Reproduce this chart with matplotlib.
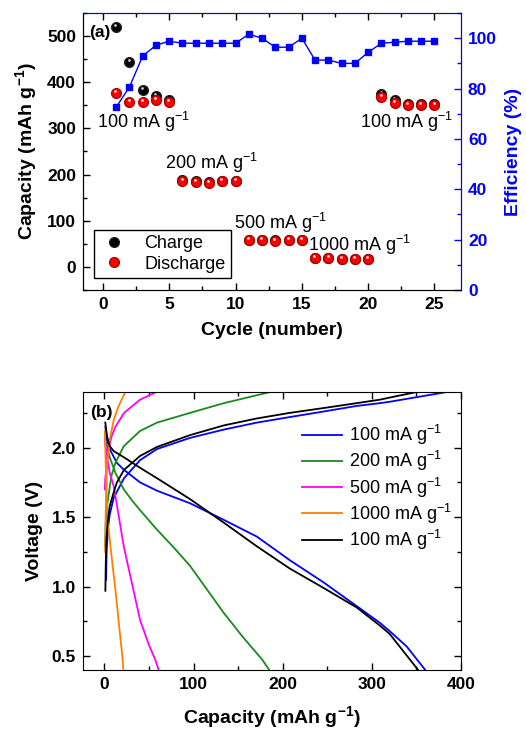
import matplotlib
matplotlib.use('Agg')
import matplotlib.pyplot as plt
from matplotlib.ticker import MultipleLocator
from matplotlib.transforms import ScaledTranslation

plt.rcParams['font.family'] = ['Liberation Sans', 'DejaVu Sans']
plt.rcParams['mathtext.fontset'] = 'custom'
plt.rcParams['mathtext.rm'] = 'Liberation Sans'
plt.rcParams['mathtext.it'] = 'Liberation Sans:italic'
plt.rcParams['mathtext.bf'] = 'Liberation Sans:bold'
plt.rcParams['xtick.direction'] = 'in'
plt.rcParams['ytick.direction'] = 'in'

# ---- panel (a): rate capability ----
cycles = list(range(1, 26))
charge = [520, 444, 383, 370, 362, 188, 186, 184, 187, 187,
          59, 59, 58, 59, 59, 20, 20, 18, 18, 18,
          374, 362, 353, 353, 353]
discharge = [377, 358, 357, 361, 357, 186, 184, 182, 186, 186,
             58, 58, 57, 58, 58, 19, 19, 17, 17, 17,
             368, 355, 351, 351, 351]
efficiency = [72.6, 80.6, 92.9, 97.2, 98.8, 98.0, 98.0, 98.0, 98.0, 98.0,
              101.6, 100.0, 96.4, 96.4, 100.0, 91.3, 91.3, 90.0, 90.0, 94.4,
              98.0, 98.4, 98.8, 98.8, 98.8]
rate_labels = ['100 mA g$^{-1}$', '200 mA g$^{-1}$', '500 mA g$^{-1}$',
               '1000 mA g$^{-1}$', '100 mA g$^{-1}$']
rate_label_pos = [(-0.45, 314), (4.7, 225), (9.85, 95), (15.5, 48), (19.4, 314)]

# ---- panel (b): charge/discharge profiles ----
q_dis_100a = [1.1, 3, 6.7, 14, 22, 40, 59, 96, 134, 171, 208, 246, 283, 309, 320, 339, 360]
v_dis_100a = [2.15, 2.05, 1.98, 1.89, 1.84, 1.75, 1.69, 1.60, 1.48, 1.36, 1.19, 1.03, 0.86, 0.74, 0.68, 0.57, 0.40]
q_chg_100a = [1.9, 2.5, 4, 6, 10.5, 22, 40, 59, 96, 134, 171, 208, 246, 283, 309, 320, 384]
v_chg_100a = [1.05, 1.25, 1.42, 1.52, 1.64, 1.78, 1.91, 1.99, 2.07, 2.13, 2.18, 2.22, 2.26, 2.30, 2.32, 2.33, 2.40]

q_dis_200 = [0.5, 2.2, 6, 12.3, 21.7, 31, 40, 59, 78, 96, 115, 134, 155, 177, 185]
v_dis_200 = [2.07, 2.03, 1.93, 1.82, 1.70, 1.62, 1.55, 1.41, 1.28, 1.15, 0.98, 0.81, 0.64, 0.475, 0.40]
q_chg_200 = [0.9, 1.5, 3, 4.9, 8, 12.3, 21.7, 40, 59, 96, 134, 186]
v_chg_200 = [1.29, 1.45, 1.58, 1.67, 1.80, 1.89, 2.01, 2.12, 2.18, 2.25, 2.32, 2.40]

q_dis_500 = [0.5, 1, 3, 6, 10.5, 15, 21.7, 30, 40, 50, 57, 61]
v_dis_500 = [2.10, 2.03, 1.93, 1.82, 1.72, 1.55, 1.29, 1.05, 0.76, 0.58, 0.475, 0.40]
q_chg_500 = [0.5, 1, 2.2, 4, 8, 12.3, 22, 40, 58]
v_chg_500 = [1.70, 1.78, 1.85, 1.97, 2.08, 2.15, 2.25, 2.345, 2.40]

q_dis_1000 = [0.5, 1, 1.8, 3.7, 8, 12.3, 16.5, 20.5, 21.3]
v_dis_1000 = [2.12, 2.0, 1.8, 1.48, 1.22, 0.98, 0.72, 0.475, 0.40]
q_chg_1000 = [0.8, 1.2, 2, 3, 6, 10.5, 16, 23.5]
v_chg_1000 = [1.25, 1.45, 1.70, 1.87, 2.06, 2.20, 2.30, 2.40]

q_dis_100b = [1, 3, 6, 10.5, 22, 40, 59, 96, 134, 171, 208, 246, 283, 309, 320, 352]
v_dis_100b = [2.18, 2.08, 2.01, 1.975, 1.93, 1.855, 1.78, 1.63, 1.46, 1.29, 1.13, 0.99, 0.85, 0.72, 0.66, 0.40]
q_chg_100b = [1.1, 1.5, 2.2, 4, 6, 10.5, 14, 22, 40, 59, 96, 134, 171, 208, 246, 283, 309, 320, 350]
v_chg_100b = [0.97, 1.15, 1.34, 1.48, 1.58, 1.68, 1.75, 1.84, 1.94, 2.005, 2.09, 2.16, 2.21, 2.25, 2.285, 2.32, 2.345, 2.36, 2.40]

profiles = [
    (q_dis_100a, v_dis_100a, q_chg_100a, v_chg_100a, '#0000ff', '100 mA g$^{-1}$'),
    (q_dis_200, v_dis_200, q_chg_200, v_chg_200, '#1a8a1a', '200 mA g$^{-1}$'),
    (q_dis_500, v_dis_500, q_chg_500, v_chg_500, '#ff00ff', '500 mA g$^{-1}$'),
    (q_dis_1000, v_dis_1000, q_chg_1000, v_chg_1000, '#ff8000', '1000 mA g$^{-1}$'),
    (q_dis_100b, v_dis_100b, q_chg_100b, v_chg_100b, 'black', '100 mA g$^{-1}$'),
]

fig = plt.figure(figsize=(5.26, 7.31), dpi=100)
ax1 = fig.add_axes([0.1578, 0.6033, 0.7186, 0.3789])
ax2 = ax1.twinx()
ax3 = fig.add_axes([0.1578, 0.0834, 0.7186, 0.3803])

shine = ax1.transData + ScaledTranslation(-0.6 / 72, 1.3 / 72, fig.dpi_scale_trans)
ax1.plot(cycles, charge, 'o', ms=7, mfc='black', mec='#202020', label='Charge')
ax1.plot(cycles, charge, 'o', ms=2.0, color='#c8c8c8', mec='none', transform=shine)
ax1.plot(cycles, discharge, 'o', ms=7, mfc='#ff0000', mec='#b00000', label='Discharge')
ax1.plot(cycles, discharge, 'o', ms=2.0, color='#ffd8d8', mec='none', transform=shine)
ax2.plot(cycles, efficiency, 's-', color='#0000ff', ms=5, lw=1)

for txt, (x, y) in zip(rate_labels, rate_label_pos):
    ax1.text(x, y, txt, fontsize=13, ha='left', va='center')
ax1.text(0.015, 0.928, '(a)', transform=ax1.transAxes, fontsize=12.5,
         fontweight='bold', ha='left', va='center')

ax1.set_xlim(-1.5, 27)
ax1.set_ylim(-50, 550)
ax2.set_ylim(0, 110)
ax1.xaxis.set_major_locator(MultipleLocator(5))
ax1.xaxis.set_minor_locator(MultipleLocator(2.5))
ax1.yaxis.set_major_locator(MultipleLocator(100))
ax1.yaxis.set_minor_locator(MultipleLocator(50))
ax2.yaxis.set_major_locator(MultipleLocator(20))
ax2.yaxis.set_minor_locator(MultipleLocator(10))
ax1.tick_params(which='both', top=True, labelsize=12.5, width=1, pad=5)
ax1.tick_params(which='major', length=5)
ax1.tick_params(which='minor', length=3)
ax2.tick_params(which='both', colors='#0000ff', labelsize=12.5, width=1, pad=5)
ax2.tick_params(which='major', length=5)
ax2.tick_params(which='minor', length=3)
ax2.spines['right'].set_color('#0000ff')
ax2.spines['top'].set_color('#0000ff')
ax1.set_xlabel('Cycle (number)', fontsize=14, fontweight='bold', labelpad=7)
ax1.set_ylabel('Capacity (mAh g$^{\\mathbf{-1}}$)', fontsize=14, fontweight='bold', labelpad=6)
ax2.set_ylabel('Efficiency (%)', fontsize=14, fontweight='bold', color='#0000ff', labelpad=6)

leg = ax1.legend(loc='lower left', bbox_to_anchor=(0.029, 0.043), borderaxespad=0,
                 fontsize=13, fancybox=False, edgecolor='black', framealpha=1,
                 handlelength=1.6, handletextpad=0.9, labelspacing=0.2, borderpad=0.3)
leg.get_frame().set_linewidth(1)

# ---- bottom panel ----
for qd, vd, qc, vc, col, lab in profiles:
    ax3.plot(qd, vd, '-', color=col, lw=1.3, label=lab)
    ax3.plot(qc, vc, '-', color=col, lw=1.3)

ax3.set_xlim(-24, 400)
ax3.set_ylim(0.4, 2.4)
ax3.xaxis.set_major_locator(MultipleLocator(100))
ax3.xaxis.set_minor_locator(MultipleLocator(50))
ax3.yaxis.set_major_locator(MultipleLocator(0.5))
ax3.yaxis.set_minor_locator(MultipleLocator(0.25))
ax3.tick_params(which='both', top=True, right=True, labelsize=12.5, width=1, pad=5)
ax3.tick_params(which='major', length=5)
ax3.tick_params(which='minor', length=3)
ax3.set_xlabel('Capacity (mAh g$^{\\mathbf{-1}}$)', fontsize=14, fontweight='bold', labelpad=9)
ax3.set_ylabel('Voltage (V)', fontsize=14, fontweight='bold', labelpad=6)
ax3.text(0.018, 0.928, '(b)', transform=ax3.transAxes, fontsize=12.5,
         fontweight='bold', ha='left', va='center')
ax3.legend(loc='upper left', bbox_to_anchor=(0.56, 0.915), borderaxespad=0,
           frameon=False, fontsize=13, handlelength=2.2, handletextpad=0.4,
           labelspacing=0.12)

for ax in (ax1, ax2, ax3):
    for lab in ax.get_xticklabels() + ax.get_yticklabels():
        lab.set_fontweight('bold')

fig.savefig('out.png', dpi=100)
